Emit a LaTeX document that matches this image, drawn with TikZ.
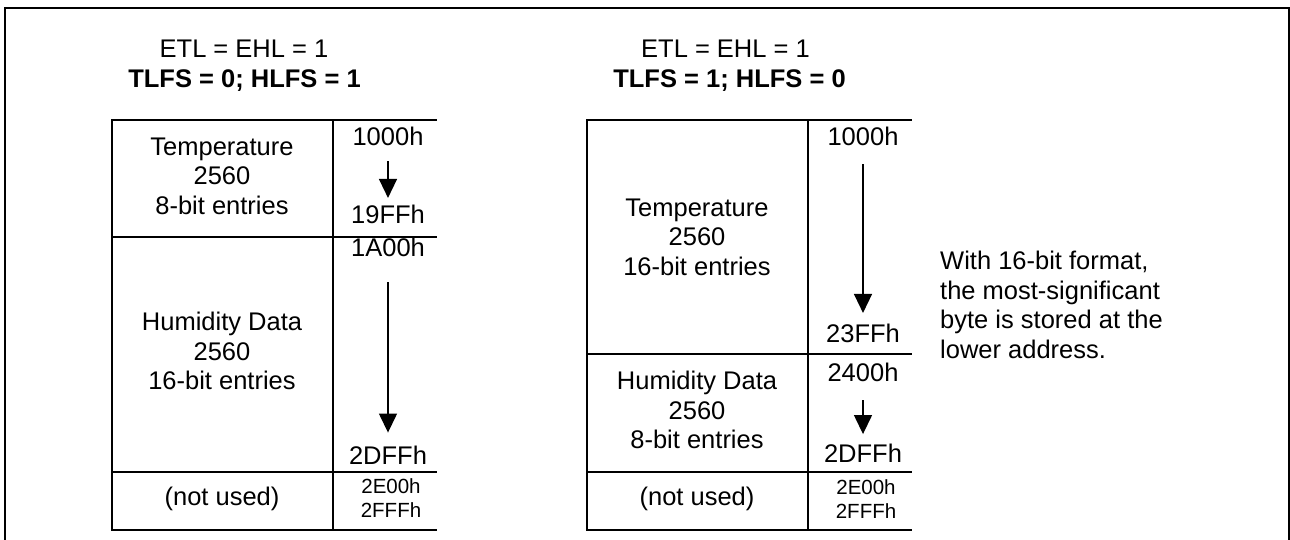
\documentclass[tikz,border=0pt]{standalone}
\usepackage{fontspec}
\setmainfont{Liberation Sans}
\usetikzlibrary{arrows.meta, positioning}
\tikzstyle{arrow} = [line width=1.4pt, -{Triangle[length=19pt,width=18pt]}]
\tikzstyle{grid} = [line width=1.8pt]
\tikzstyle{celltext} = [align=center, inner sep=0pt, font=\fontsize{25.5}{29.5}\selectfont]
\tikzstyle{addr} = [inner sep=0pt, font=\fontsize{25.5}{29.5}\selectfont]
\tikzstyle{addrsmall} = [align=center, inner sep=0pt, font=\fontsize{20.5}{24.5}\selectfont]

\begin{document}
\begin{tikzpicture}[x=1pt, y=-1pt]
    \useasboundingbox (0,0) rectangle (1290,540);
    \draw[line width=2pt] (5,540) -- (5,8) -- (1289,8) -- (1289,540);

    % TLFS = 0; HLFS = 1
    \begin{scope}
        \node[celltext, anchor=base] (titleL1) at (244,58) {ETL = EHL = 1};
        \node[celltext, anchor=base] (titleL2) at (244.5,88) {\textbf{TLFS = 0; HLFS = 1}};

        \draw[grid] (112,120) rectangle (333,530);
        \draw[grid] (333,120) -- (437,120);
        \draw[grid] (112,237) -- (437,237);
        \draw[grid] (112,472) -- (437,472);
        \draw[grid] (333,530) -- (437,530);

        \node[celltext] (tempL) at (222,176) {Temperature\\2560\\8-bit entries};
        \node[celltext] (humL) at (222,351) {Humidity Data\\2560\\16-bit entries};
        \node[celltext] (unusedL) at (222,499) {(not used)};

        \node[addr] (aL1) at (388,136.5) {1000h};
        \node[addr] (aL2) at (388,214.5) {19FFh};
        \node[addr] (aL3) at (388,247.5) {1A00h};
        \node[addr] (aL4) at (388,455) {2DFFh};
        \node[addrsmall] (aL5) at (391,498) {2E00h\\2FFFh};
        \draw[arrow] ([yshift=-15pt]aL1.south) -- ([yshift=7pt]aL2.north);
        \draw[arrow] ([yshift=-25pt]aL3.south) -- ([yshift=13pt]aL4.north);
    \end{scope}

    % TLFS = 1; HLFS = 0
    \begin{scope}
        \node[celltext, anchor=base] (titleR1) at (725.5,58) {ETL = EHL = 1};
        \node[celltext, anchor=base] (titleR2) at (729.5,88) {\textbf{TLFS = 1; HLFS = 0}};

        \draw[grid] (587,120) rectangle (808,530);
        \draw[grid] (808,120) -- (912,120);
        \draw[grid] (587,354) -- (912,354);
        \draw[grid] (587,472) -- (912,472);
        \draw[grid] (808,530) -- (912,530);

        \node[celltext] (tempR) at (697,237) {Temperature\\2560\\16-bit entries};
        \node[celltext] (humR) at (697,410) {Humidity Data\\2560\\8-bit entries};
        \node[celltext] (unusedR) at (697,499) {(not used)};

        \node[addr] (aR1) at (863,136.5) {1000h};
        \node[addr] (aR2) at (863,333.5) {23FFh};
        \node[addr] (aR3) at (863,372.5) {2400h};
        \node[addr] (aR4) at (863,453.5) {2DFFh};
        \node[addrsmall] (aR5) at (866,499) {2E00h\\2FFFh};
        \draw[arrow] ([yshift=-18pt]aR1.south) -- ([yshift=11pt]aR2.north);
        \draw[arrow] ([yshift=-18pt]aR3.south) -- ([yshift=10pt]aR4.north);
    \end{scope}

    \node[celltext, align=left, anchor=west] (note) at (940,305)
        {With 16-bit format,\\the most-significant\\byte is stored at the\\lower address.};
\end{tikzpicture}
\end{document}
